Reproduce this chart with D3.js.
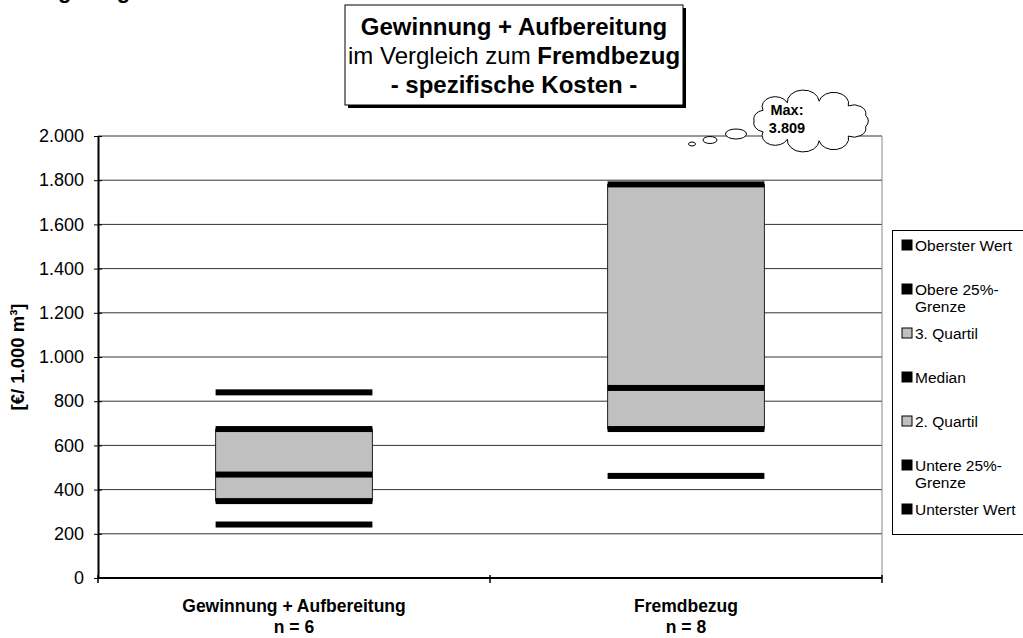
<!DOCTYPE html>
<html>
<head>
<meta charset="utf-8">
<script src="https://cdn.jsdelivr.net/npm/d3@7"></script>
<style>
  body { margin: 0; background: #fff; }
  svg { display: block; font-family: Arial, "Liberation Sans", sans-serif; }
</style>
</head>
<body>
<div id="chart"></div>
<script>
// Kennwerte je Kategorie (€/1.000 m³)
const categories = ['Gewinnung + Aufbereitung', 'Fremdbezug'];
const nLabels = ['n = 6', 'n = 8'];
const unterster = [242, 462];
const untere = [348, 674];
const median = [468, 860];
const obere = [674, 1781];
const oberster = [840, 3809];
const yTicks = [0, 200, 400, 600, 800, 1000, 1200, 1400, 1600, 1800, 2000];
const legendNames = ['Oberster Wert', 'Obere 25%-|Grenze', '3. Quartil', 'Median', '2. Quartil', 'Untere 25%-|Grenze', 'Unterster Wert'];
const legendColors = ['#000', '#000', '#c0c0c0', '#000', '#c0c0c0', '#000', '#000'];

const W = 1023, H = 638;
const margin = { top: 136, right: 141, bottom: 60, left: 98 };
const width = W - margin.left - margin.right;
const height = H - margin.top - margin.bottom;

const de = d3.formatLocale({ decimal: ',', thousands: '.', grouping: [3], currency: ['', '€'] });
const fmt = de.format(',d');

const svg = d3.select('#chart').append('svg')
  .attr('width', W).attr('height', H);

// abgeschnittene Überschrift oben links (nur Unterlängen sichtbar)
svg.append('text')
  .attr('x', 30).attr('y', -2)
  .attr('font-size', 22).attr('font-weight', 'bold')
  .text('Regelungen');

const g = svg.append('g').attr('transform', `translate(${margin.left},${margin.top})`);

const x = d3.scaleBand().domain(categories).range([0, width]);
const y = d3.scaleLinear().domain([0, 2000]).range([height, 0]);

// Gitternetz
g.selectAll('.grid').data(yTicks.slice(1)).enter().append('line')
  .attr('x1', 0).attr('x2', width)
  .attr('y1', d => y(d)).attr('y2', d => y(d))
  .attr('stroke', '#333').attr('stroke-width', 1);
g.append('line')
  .attr('x1', width).attr('x2', width).attr('y1', 0).attr('y2', height)
  .attr('stroke', '#888');

// Boxen
const boxW = x.bandwidth() * 0.4;
const bandH = 6;
const cx = d => x(d) + x.bandwidth() / 2;

categories.forEach((c, i) => {
  const x0 = cx(c) - boxW / 2;
  g.append('rect')
    .attr('x', x0).attr('width', boxW)
    .attr('y', y(obere[i])).attr('height', y(untere[i]) - y(obere[i]))
    .attr('fill', '#c0c0c0').attr('stroke', '#222').attr('stroke-width', 1);
  const lines = [unterster[i], untere[i], median[i], obere[i], oberster[i]]
    .filter(v => v <= 2000);
  lines.forEach(v => {
    g.append('rect')
      .attr('x', x0).attr('width', boxW)
      .attr('y', y(v) - bandH / 2).attr('height', bandH)
      .attr('fill', '#000');
  });
});

// Achsen
const yAxis = d3.axisLeft(y).tickValues(yTicks).tickFormat(fmt).tickSizeInner(4).tickSizeOuter(0);
const ya = g.append('g').call(yAxis);
ya.select('.domain').attr('stroke', '#000').attr('stroke-width', 2);
ya.selectAll('.tick line').attr('x2', -4).attr('x1', 4).attr('stroke', '#000');
ya.selectAll('.tick text').attr('x', -14).attr('font-size', 18)
  .attr('font-family', 'Arial, "Liberation Sans", sans-serif').attr('fill', '#000');

const xa = g.append('g').attr('transform', `translate(0,${height})`);
xa.append('line').attr('x1', 0).attr('x2', width).attr('stroke', '#000').attr('stroke-width', 2);
[0, x.bandwidth(), width].forEach(t => {
  xa.append('line').attr('x1', t).attr('x2', t).attr('y1', -3).attr('y2', 5)
    .attr('stroke', '#000').attr('stroke-width', 1.5);
});
categories.forEach((c, i) => {
  const t = xa.append('text').attr('text-anchor', 'middle')
    .attr('font-size', 17.5).attr('font-weight', 'bold');
  t.append('tspan').attr('x', cx(c)).attr('y', 34).text(c);
  t.append('tspan').attr('x', cx(c)).attr('y', 55).text(nLabels[i]);
});

// Achsentitel
svg.append('text')
  .attr('transform', `translate(24,${margin.top + height / 2}) rotate(-90)`)
  .attr('text-anchor', 'middle').attr('font-size', 18.5).attr('font-weight', 'bold')
  .text('[€/ 1.000 m³]');

// Titelbox
const tb = { x: 345, y: 5, w: 338, h: 100 };
svg.append('rect').attr('x', tb.x + 3).attr('y', tb.y + 3).attr('width', tb.w).attr('height', tb.h).attr('fill', '#000');
svg.append('rect').attr('x', tb.x).attr('y', tb.y).attr('width', tb.w).attr('height', tb.h)
  .attr('fill', '#fff').attr('stroke', '#000').attr('stroke-width', 1);
const tt = svg.append('text').attr('text-anchor', 'middle').attr('font-size', 24);
tt.append('tspan').attr('x', tb.x + tb.w / 2).attr('y', 35).attr('font-weight', 'bold').text('Gewinnung + Aufbereitung');
const l2 = tt.append('tspan').attr('x', tb.x + tb.w / 2).attr('y', 64);
l2.append('tspan').text('im Vergleich zum ');
l2.append('tspan').attr('font-weight', 'bold').text('Fremdbezug');
tt.append('tspan').attr('x', tb.x + tb.w / 2).attr('y', 93).attr('font-weight', 'bold').text('- spezifische Kosten -');

// Wolke für Maximalwert
const cl = { cx: 811, cy: 121, rx: 57, ry: 20 };
const nb = 11;
let p = '';
for (let k = 0; k <= nb; k++) {
  const a = Math.PI + (k / nb) * 2 * Math.PI;
  const px = cl.cx + cl.rx * Math.cos(a), py = cl.cy + cl.ry * Math.sin(a);
  if (k === 0) p += `M${px},${py}`;
  else p += `A12,9 0 0,1 ${px},${py}`;
}
[[692, 144, 3.5, 2], [710, 140, 7, 3.5], [736, 134, 10.5, 5]].forEach(e => {
  svg.append('ellipse').attr('cx', e[0]).attr('cy', e[1]).attr('rx', e[2]).attr('ry', e[3])
    .attr('fill', '#fff').attr('stroke', '#000');
});
svg.append('path').attr('d', p + 'Z').attr('fill', '#fff').attr('stroke', '#000');
const ct = svg.append('text').attr('font-size', 14.5).attr('font-weight', 'bold').attr('text-anchor', 'middle');
ct.append('tspan').attr('x', 787).attr('y', 115).text('Max:');
ct.append('tspan').attr('x', 787).attr('y', 133).text(fmt(oberster[1]));

// Legende
const lg = svg.append('g');
lg.append('rect').attr('x', 892.5).attr('y', 230.5).attr('width', 140).attr('height', 304)
  .attr('fill', '#fff').attr('stroke', '#000');
legendNames.forEach((n, i) => {
  const yy = 245 + i * 44;
  lg.append('rect').attr('x', 902).attr('y', yy - 5).attr('width', 10).attr('height', 10)
    .attr('fill', legendColors[i]).attr('stroke', '#000');
  const t = lg.append('text').attr('font-size', 15.5);
  n.split('|').forEach((s, j) => {
    t.append('tspan').attr('x', 915).attr('y', yy + 6 + j * 17).text(s);
  });
});
</script>
</body>
</html>
